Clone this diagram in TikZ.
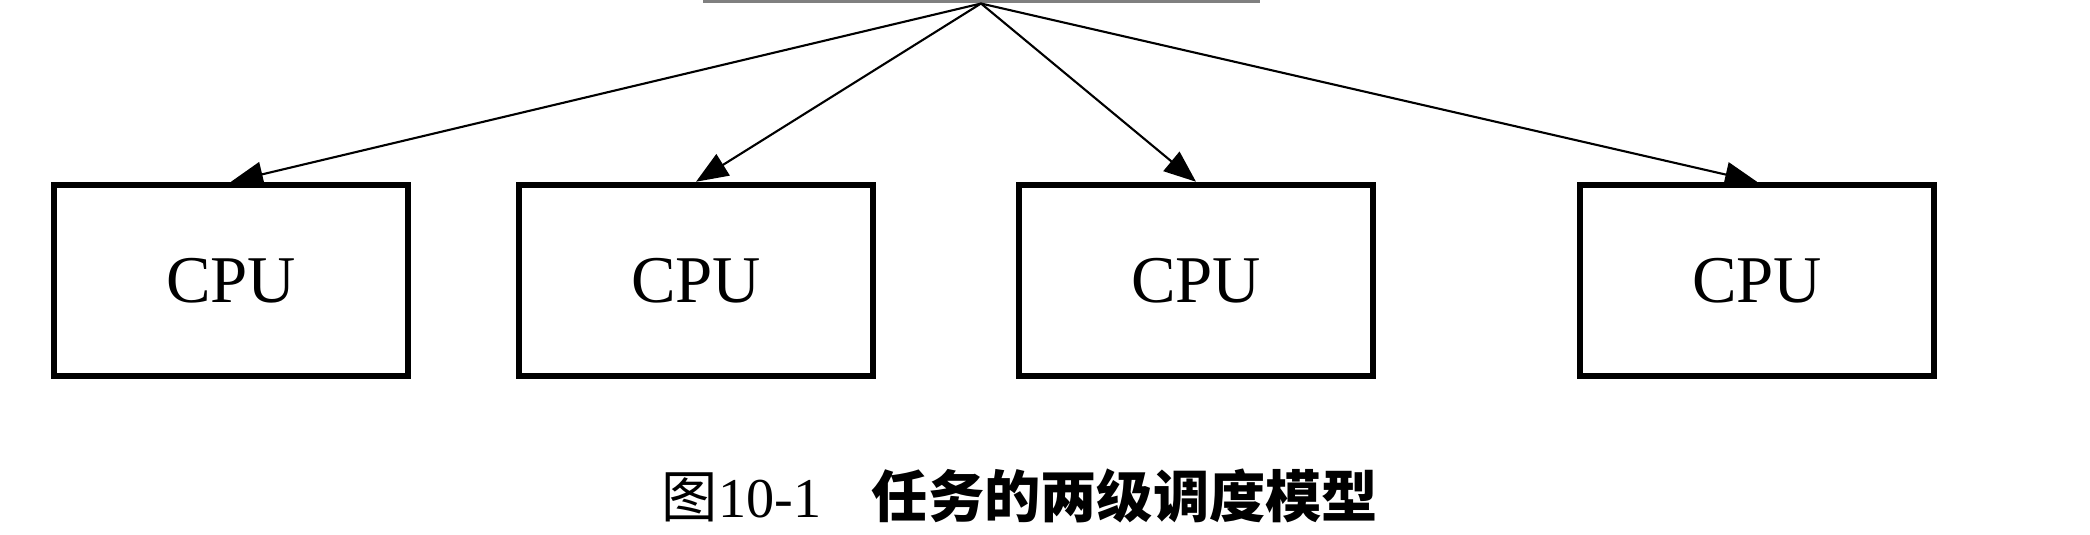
\documentclass[tikz,border=0pt]{standalone}
\usepackage{fontspec}
\setmainfont{Liberation Serif}
\newfontfamily\cjk{Noto Sans CJK SC}
\usetikzlibrary{arrows.meta,positioning}
\tikzset{
 >={Triangle[length=0.32cm,width=0.25cm]},
 cpubox/.style={draw,line width=0.065cm,minimum width=3.54cm,minimum height=1.91cm,
   font=\fontsize{19}{22}\selectfont},
 schedbox/.style={draw=gray,line width=0.03cm,minimum width=5.54cm,minimum height=2.04cm}
}

\begin{document}
\begin{tikzpicture}

\useasboundingbox (0,0) rectangle (20.9,-5.34);
\clip (0,0) rectangle (20.9,-5.34);

\path (9.81,1) node[schedbox,name=sched] {};

\path (2.31,-2.805) node[cpubox,name=cpu1] {CPU};
\path (6.96,-2.805) node[cpubox,name=cpu2] {CPU};
\path (11.96,-2.805) node[cpubox,name=cpu3] {CPU};
\path (17.57,-2.805) node[cpubox,name=cpu4] {CPU};

\path[->,line width=0.6pt] (sched.south) edge (cpu1.north);
\path[->,line width=0.6pt] (sched.south) edge (cpu2.north);
\path[->,line width=0.6pt] (sched.south) edge (cpu3.north);
\path[->,line width=0.6pt] (sched.south) edge (cpu4.north);

\path (10.2,-4.96) node[name=caption,font=\fontsize{16}{18}\selectfont]
  {{\cjk 图}10-1\hspace{0.9em}{\cjk\bfseries 任务的两级调度模型}};

\end{tikzpicture}
\end{document}
